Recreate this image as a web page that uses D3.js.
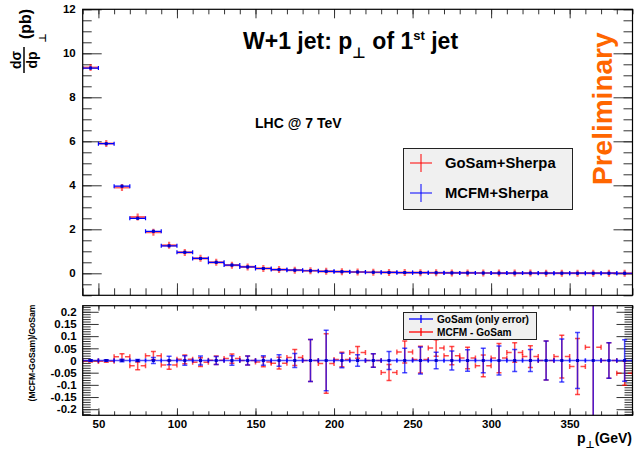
<!DOCTYPE html>
<html>
<head>
<meta charset="utf-8">
<script src="https://cdn.jsdelivr.net/npm/d3@7/dist/d3.min.js"></script>
<style>
  html, body { margin: 0; padding: 0; background: #fff; }
  svg { display: block; font-family: "Liberation Sans", Arial, Helvetica, sans-serif; font-weight: bold; }
</style>
</head>
<body>
<svg id="chart" width="636" height="449"></svg>
<script>
// ---------------- data ----------------
const binCenters = [45,55,65,75,85,95,105,115,125,135,145,155,165,175,185,195,205,215,225,235,245,255,265,275,285,295,305,315,325,335,345,355,365,375,385];
const binWidth = 10;
const gosam = [9.35,5.90,3.90,2.56,1.87,1.27,0.95,0.68,0.50,0.37,0.29,0.22,0.17,0.14,0.115,0.090,0.072,0.058,0.048,0.040,0.033,0.027,0.023,0.019,0.016,0.013,0.011,0.0095,0.008,0.0068,0.0058,0.005,0.0043,0.0037,0.0032];
const gosamErr = [0.03,0.02,0.02,0.01,0.02,0.02,0.018,0.012,0.008,0.007,0.005,0.004,0.004,0.004,0.01,0.011,0.002,0.0014,0.0013,0.0015,0.0016,0.0015,0.0008,0.0007,0.0007,0.0006,0.0007,0.0004,0.0004,0.0005,0.0005,0.0006,0.0014,0.0003,0.0003];
const mcfm = [9.33,5.89,3.96,2.50,1.91,1.25,0.955,0.675,0.50,0.373,0.29,0.219,0.168,0.142,0.115,0.089,0.072,0.060,0.048,0.038,0.034,0.027,0.024,0.019,0.016,0.013,0.011,0.0098,0.0081,0.0068,0.0059,0.0049,0.0045,0.0037,0.0030];
const mcfmErr = [0.03,0.02,0.05,0.04,0.03,0.02,0.017,0.012,0.008,0.007,0.005,0.004,0.004,0.005,0.01,0.011,0.002,0.0014,0.0013,0.0013,0.0015,0.0015,0.0008,0.0007,0.0007,0.0006,0.0007,0.0004,0.0004,0.0005,0.0005,0.0006,0.0014,0.0003,0.0002];
// lower panel
const ratio = [-0.002,-0.003,0.015,-0.022,0.020,-0.018,0.005,-0.007,0.001,0.008,0.000,-0.006,-0.011,0.012,0.000,-0.012,0.004,0.033,0.000,-0.049,0.035,0.004,0.051,0.020,0.010,-0.022,0.010,0.033,0.016,0.000,0.016,-0.025,0.054,0.000,-0.052];
const ratioErr = [0.004,0.004,0.013,0.016,0.017,0.018,0.018,0.018,0.017,0.019,0.018,0.020,0.024,0.033,0.086,0.122,0.030,0.024,0.028,0.033,0.045,0.055,0.034,0.037,0.044,0.045,0.060,0.040,0.045,0.080,0.088,0.115,0.32,0.073,0.050];
const gosamRelErr = [0.003,0.003,0.005,0.004,0.012,0.017,0.019,0.018,0.016,0.019,0.018,0.020,0.024,0.029,0.086,0.124,0.030,0.024,0.028,0.037,0.050,0.055,0.034,0.039,0.044,0.050,0.060,0.045,0.045,0.080,0.088,0.115,0.32,0.073,0.085];
const topYTicks = [0,2,4,6,8,10,12];
const botYTicks = [-0.2,-0.15,-0.1,-0.05,0,0.05,0.1,0.15,0.2];
const botYTickLabels = ["-0.2","-0.15","-0.1","-0.05","0","0.05","0.1","0.15","0.2"];
const xTicks = [50,100,150,200,250,300,350];
const legendTop = ["GoSam+Sherpa","MCFM+Sherpa"];
const legendBot = ["GoSam (only error)","MCFM - GoSam"];

// ---------------- layout ----------------
const L = 82.7, R = 632.5;
const topT = 9.3, topB = 295.3;
const botT = 305.7, botB = 415.3;
const RED = "#ff0000", BLUE = "#0000ff", ORANGE = "#ff6600";

const svg = d3.select("#chart");
const x = d3.scaleLinear().domain([40, 390]).range([L, R]);
const yT = d3.scaleLinear().domain([-1, 12]).range([topB, topT]);
const yB = d3.scaleLinear().domain([-0.225, 0.225]).range([botB, botT]);

const defs = svg.append("defs");
defs.append("clipPath").attr("id","clipT").append("rect").attr("x",L).attr("y",topT).attr("width",R-L).attr("height",topB-topT);
defs.append("clipPath").attr("id","clipB").append("rect").attr("x",L).attr("y",botT).attr("width",R-L).attr("height",botB-botT);

const tickColor = "#333";
function styleAxis(g) {
  g.select(".domain").remove();
  g.selectAll(".tick line").attr("stroke", tickColor);
  g.selectAll("text").attr("fill","#000").style("font-weight","bold");
}
const minorX = d3.range(40, 391, 10);

// ---------- top panel axes ----------
svg.append("g").attr("transform",`translate(${L},0)`)
  .call(d3.axisLeft(yT).tickValues(d3.range(-1, 12.01, 0.5)).tickSize(-9).tickFormat(""))
  .call(styleAxis);
svg.append("g").attr("transform",`translate(${L},0)`)
  .call(d3.axisLeft(yT).tickValues(topYTicks).tickSize(-19).tickPadding(7).tickFormat(d3.format("d")))
  .call(styleAxis).selectAll("text").style("font-size","11.5px");
svg.append("g").attr("transform",`translate(${R},0)`)
  .call(d3.axisRight(yT).tickValues(d3.range(-1, 12.01, 0.5)).tickSize(-9).tickFormat(""))
  .call(styleAxis);
svg.append("g").attr("transform",`translate(${R},0)`)
  .call(d3.axisRight(yT).tickValues(topYTicks).tickSize(-19).tickFormat(""))
  .call(styleAxis);
[[topT, d3.axisTop],[topB, d3.axisBottom]].forEach(([yy, ax]) => {
  svg.append("g").attr("transform",`translate(0,${yy})`)
    .call(ax(x).tickValues(minorX).tickSize(yy===topT ? -5 : -7).tickFormat(""))
    .call(styleAxis);
  svg.append("g").attr("transform",`translate(0,${yy})`)
    .call(ax(x).tickValues(xTicks).tickSize(yy===topT ? -9 : -12).tickFormat(""))
    .call(styleAxis);
});

// ---------- bottom panel axes ----------
const minorYB = d3.range(-22, 23, 1).map(v => v/100);
svg.append("g").attr("transform",`translate(${L},0)`)
  .call(d3.axisLeft(yB).tickValues(minorYB).tickSize(-8).tickFormat(""))
  .call(styleAxis);
svg.append("g").attr("transform",`translate(${L},0)`)
  .call(d3.axisLeft(yB).tickValues(botYTicks).tickSize(-16).tickPadding(6).tickFormat((d,i)=>botYTickLabels[i]))
  .call(styleAxis).selectAll("text").style("font-size","11.5px");
svg.append("g").attr("transform",`translate(${R},0)`)
  .call(d3.axisRight(yB).tickValues(minorYB).tickSize(-8).tickFormat(""))
  .call(styleAxis);
svg.append("g").attr("transform",`translate(${R},0)`)
  .call(d3.axisRight(yB).tickValues(botYTicks).tickSize(-16).tickFormat(""))
  .call(styleAxis);
svg.append("g").attr("transform",`translate(0,${botT})`)
  .call(d3.axisTop(x).tickValues(minorX).tickSize(-3).tickFormat(""))
  .call(styleAxis);
svg.append("g").attr("transform",`translate(0,${botT})`)
  .call(d3.axisTop(x).tickValues(xTicks).tickSize(-5).tickFormat(""))
  .call(styleAxis);
svg.append("g").attr("transform",`translate(0,${botB})`)
  .call(d3.axisBottom(x).tickValues(minorX).tickSize(-4).tickFormat(""))
  .call(styleAxis);
svg.append("g").attr("transform",`translate(0,${botB})`)
  .call(d3.axisBottom(x).tickValues(xTicks).tickSize(-7).tickPadding(5).tickFormat(d3.format("d")))
  .call(styleAxis).selectAll("text").style("font-size","11.5px");

// ---------- data drawing ----------
function drawErrSeries(g, vals, errs, color, opts) {
  binCenters.forEach((c, i) => {
    const x0 = x(c - binWidth/2), x1 = x(c + binWidth/2), xc = x(c);
    const yv = opts.y(vals[i]);
    const grp = g.append("g").attr("stroke", color).attr("stroke-opacity", opts.op).attr("stroke-width", opts.w).attr("fill","none");
    if (opts.gap) {
      grp.append("line").attr("x1",x0).attr("x2",xc-3).attr("y1",yv).attr("y2",yv);
      grp.append("line").attr("x1",xc+3).attr("x2",x1).attr("y1",yv).attr("y2",yv);
    } else {
      grp.append("line").attr("x1",x0).attr("x2",x1).attr("y1",yv).attr("y2",yv);
    }
    if (opts.cap) {
      grp.append("line").attr("x1",x0).attr("x2",x0).attr("y1",yv-opts.cap).attr("y2",yv+opts.cap);
      grp.append("line").attr("x1",x1).attr("x2",x1).attr("y1",yv-opts.cap).attr("y2",yv+opts.cap);
    }
    let ya = opts.y(vals[i] + errs[i]), yb = opts.y(vals[i] - errs[i]);
    if (opts.minTick) { ya = Math.min(ya, yv - opts.minTick); yb = Math.max(yb, yv + opts.minTick); }
    grp.append("line").attr("x1",xc).attr("x2",xc).attr("y1",ya).attr("y2",yb);
    if (opts.vcap) {
      grp.append("line").attr("x1",xc-opts.vcap).attr("x2",xc+opts.vcap).attr("y1",ya).attr("y2",ya);
      grp.append("line").attr("x1",xc-opts.vcap).attr("x2",xc+opts.vcap).attr("y1",yb).attr("y2",yb);
    }
    if (opts.marker) {
      g.append("rect").attr("x",xc-1.5).attr("y",yv-1.5).attr("width",3).attr("height",3).attr("fill",opts.marker);
    }
  });
}
const gTop = svg.append("g").attr("clip-path","url(#clipT)");
drawErrSeries(gTop, gosam, gosamErr, RED, {y:yT, op:0.6, w:2.2, cap:0, minTick:3.5, vcap:0});
drawErrSeries(gTop, mcfm, mcfmErr, BLUE, {y:yT, op:1, w:1.2, cap:2, minTick:1.5, vcap:0, marker:"#0000cc"});

const gBot = svg.append("g").attr("clip-path","url(#clipB)");
drawErrSeries(gBot, ratio, ratioErr, RED, {y:yB, op:0.7, w:1.5, cap:2.5, vcap:2.5, gap:true});
drawErrSeries(gBot, binCenters.map(()=>0), gosamRelErr, BLUE, {y:yB, op:0.7, w:1.5, cap:2, vcap:2.5, marker:"#0000cc"});

// frames
svg.append("rect").attr("x",L).attr("y",topT).attr("width",R-L).attr("height",topB-topT).attr("fill","none").attr("stroke","#000").attr("stroke-width",1.2);
svg.append("rect").attr("x",L).attr("y",botT).attr("width",R-L).attr("height",botB-botT).attr("fill","none").attr("stroke","#000").attr("stroke-width",1.2);

// ---------- texts ----------
const title = svg.append("text").attr("x",243).attr("y",49).style("font-size","23px").attr("fill","#000");
title.append("tspan").text("W+1 jet: p");
title.append("tspan").attr("dy",9).style("font-size","15px").style("font-family","DejaVu Sans").text("\u22A5");
title.append("tspan").attr("dy",-9).text(" of 1");
title.append("tspan").attr("dy",-9).style("font-size","13px").text("st");
title.append("tspan").attr("dy",9).text(" jet");

svg.append("text").attr("x",255).attr("y",128).style("font-size","14px").text("LHC @ 7 TeV");

svg.append("text").attr("transform","translate(612,185) rotate(-90)").style("font-size","28px").attr("fill",ORANGE).text("Preliminary");

// y title top
const yt = svg.append("g");
yt.append("text").attr("transform","translate(21,60) rotate(-90)").attr("text-anchor","middle").style("font-size","14px").text("d\u03C3");
yt.append("line").attr("x1",24).attr("x2",24).attr("y1",47).attr("y2",73).attr("stroke","#000").attr("stroke-width",1.5);
yt.append("text").attr("transform","translate(37,60) rotate(-90)").attr("text-anchor","middle").style("font-size","14px").text("dp");
yt.append("text").attr("transform","translate(46,38) rotate(-90)").attr("text-anchor","middle").style("font-size","10px").style("font-family","DejaVu Sans").text("\u22A5");
yt.append("text").attr("transform","translate(31,24) rotate(-90)").attr("text-anchor","middle").style("font-size","16px").text("(pb)");

// y title bottom
svg.append("text").attr("transform","translate(35,353) rotate(-90)").attr("text-anchor","middle").style("font-size","8.6px").text("(MCFM-GoSam)/GoSam");

// x title
const xtl = svg.append("text").attr("x",632).attr("y",443).attr("text-anchor","end").style("font-size","14px");
xtl.append("tspan").text("p");
xtl.append("tspan").attr("dy",5).style("font-size","10px").style("font-family","DejaVu Sans").text("\u22A5");
xtl.append("tspan").attr("dy",-5).text("(GeV)");

// legend top
const lg = svg.append("g");
lg.append("rect").attr("x",403.5).attr("y",148.5).attr("width",169).attr("height",61).attr("fill","#f0f0f0").attr("stroke","#222").attr("stroke-width",1);
[[RED,163],[BLUE,193]].forEach(([c,yy],i) => {
  lg.append("line").attr("x1",410).attr("x2",432).attr("y1",yy).attr("y2",yy).attr("stroke",c).attr("stroke-width",1);
  lg.append("line").attr("x1",421).attr("x2",421).attr("y1",yy-9).attr("y2",yy+9).attr("stroke",c).attr("stroke-width",1);
  lg.append("text").attr("x",445).attr("y",yy+5).style("font-size","14.8px").text(legendTop[i]);
});
// legend bottom
const lb = svg.append("g");
lb.append("rect").attr("x",403.5).attr("y",312.5).attr("width",133).attr("height",27).attr("fill","#f0f0f0").attr("stroke","#222").attr("stroke-width",1);
[[BLUE,319],[RED,332]].forEach(([c,yy],i) => {
  lb.append("line").attr("x1",409).attr("x2",433).attr("y1",yy).attr("y2",yy).attr("stroke",c).attr("stroke-width",1.3);
  lb.append("line").attr("x1",421).attr("x2",421).attr("y1",yy-4).attr("y2",yy+4).attr("stroke",c).attr("stroke-width",1.3);
  lb.append("text").attr("x",437).attr("y",yy+3.5).style("font-size","10.1px").text(legendBot[i]);
});
</script>
</body>
</html>
